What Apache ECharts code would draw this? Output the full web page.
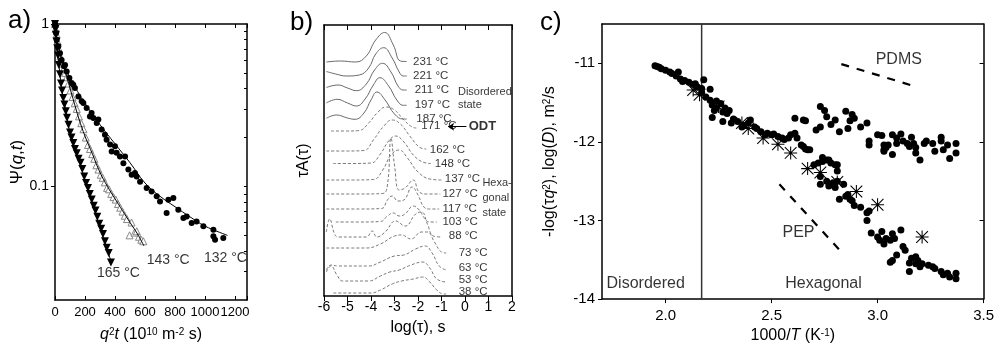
<!DOCTYPE html>
<html><head><meta charset="utf-8">
<script src="https://cdn.jsdelivr.net/npm/echarts@6/dist/echarts.min.js"></script>
<style>html,body{margin:0;padding:0;background:#fff}#c{width:997px;height:349px}</style>
</head><body><div id="c"></div>
<script>
// ---------------- Panel a data ----------------
const aXTicks = [0,200,400,600,800,1000,1200];
const aYTicks = [0.1,1];
const aYMinorTicks = [0.03,0.04,0.05,0.06,0.07,0.08,0.09,0.1,0.2,0.3,0.4,0.5,0.6,0.7,0.8,0.9];
const a132 = [[0,1.0],[3,0.97],[7,0.88],[11,0.80],[22,0.73],[33,0.66],[44,0.60],[60,0.55],[67,0.56],[78,0.51],[96,0.465],[111,0.433],[122,0.423],[133,0.404],[156,0.358],[178,0.334],[189,0.326],[211,0.304],[233,0.27],[244,0.283],[256,0.264],[278,0.246],[289,0.258],[311,0.224],[333,0.208],[344,0.194],[367,0.181],[378,0.164],[400,0.177],[411,0.161],[433,0.153],[456,0.139],[467,0.153],[489,0.127],[511,0.118],[533,0.121],[544,0.115],[567,0.107],[611,0.0977],[644,0.0932],[678,0.0869],[700,0.0809],[744,0.0686],[756,0.0829],[789,0.0848],[822,0.0719],[856,0.0639],[878,0.0654],[911,0.0595],[944,0.0609],[989,0.0568],[1056,0.0541],[1056,0.0493],[1067,0.047],[1122,0.0481]];
const a143 = [[0,1.0],[5,0.93],[10,0.86],[18,0.78],[27,0.70],[36,0.63],[46,0.57],[57,0.53],[68,0.50],[78,0.47],[90,0.43],[103,0.39],[117,0.355],[131,0.325],[145,0.30],[160,0.27],[175,0.245],[190,0.225],[205,0.20],[220,0.18],[233,0.17],[248,0.158],[262,0.148],[276,0.135],[290,0.127],[305,0.118],[318,0.113],[332,0.106],[347,0.098],[360,0.096],[375,0.09],[390,0.086],[405,0.083],[420,0.078],[435,0.074],[450,0.07],[465,0.066],[480,0.063],[497,0.050],[510,0.060],[530,0.052],[545,0.053],[560,0.049],[575,0.047],[589,0.046]];
const a165 = [[0,1.0],[3,0.93],[6,0.86],[10,0.78],[15,0.71],[20,0.64],[26,0.56],[33,0.49],[40,0.43],[47,0.39],[55,0.35],[63,0.32],[72,0.29],[80,0.265],[90,0.24],[100,0.215],[110,0.20],[122,0.185],[133,0.17],[145,0.16],[157,0.148],[170,0.14],[182,0.128],[195,0.115],[207,0.105],[220,0.098],[232,0.09],[245,0.083],[258,0.076],[270,0.071],[282,0.065],[295,0.059],[308,0.055],[320,0.051],[333,0.046],[345,0.042],[358,0.039],[373,0.034]];
const a132Fit = [[0,1],[10,0.85],[25,0.72],[50,0.60],[100,0.465],[150,0.385],[200,0.325],[300,0.24],[400,0.183],[500,0.14],[600,0.105],[700,0.087],[800,0.075],[900,0.065],[1000,0.057],[1150,0.050]];
const a143Fit = [[0,1],[20,0.74],[50,0.575],[80,0.468],[120,0.347],[160,0.26],[200,0.204],[250,0.158],[300,0.122],[350,0.1],[400,0.084],[450,0.071],[500,0.06],[550,0.051],[593,0.043]];
const a165Fit = [[0,1],[20,0.64],[45,0.40],[70,0.30],[100,0.214],[150,0.153],[200,0.110],[250,0.0785],[300,0.056],[373,0.0347]];
const aLabels = [[280,0.0294,'165 °C'],[611,0.0354,'143 °C'],[993,0.0362,'132 °C']];

// ---------------- Panel b data ----------------
const bXTicks = [-6,-5,-4,-3,-2,-1,0,1,2];
const bTemps = ['231','221','211','197','187','171','162','148','137','127','117','103','88','73','63','53','38'];
const b231 = [[-5.9,234],[-5.3,235],[-4.65,234],[-4.2,240],[-3.8,256],[-3.42,263.5],[-3.05,251],[-2.75,235],[-2.48,234.5]];
const b221 = [[-5.9,224.5],[-5.5,222],[-5.05,220],[-4.5,221],[-4.1,228],[-3.8,242],[-3.46,248.3],[-3.1,238],[-2.8,224],[-2.63,220],[-2.48,220]];
const b211 = [[-5.9,208.5],[-5.4,211],[-5.0,208],[-4.62,205.3],[-4.2,212],[-3.85,226],[-3.51,232.7],[-3.15,224],[-2.85,210],[-2.63,206],[-2.48,206]];
const b197 = [[-5.9,193],[-5.44,196.7],[-5.0,193],[-4.62,190],[-4.25,197],[-3.9,211],[-3.62,218.3],[-3.25,210],[-2.9,196],[-2.63,190.7],[-2.48,190.7]];
const b187 = [[-5.9,177.7],[-5.47,181],[-5.0,178],[-4.68,176.7],[-4.3,183],[-4.0,196],[-3.75,204],[-3.4,196],[-3.0,182],[-2.63,177],[-2.48,177]];
const b171 = [[-5.7,165],[-5.0,165],[-4.5,165.5],[-4.1,173],[-3.7,184],[-3.35,189],[-3.0,186],[-2.6,176],[-2.25,169],[-2.07,168]];
const b162 = [[-5.9,145],[-5.0,145],[-4.3,145.5],[-3.9,156],[-3.45,170],[-3.1,176],[-2.75,172],[-2.35,160],[-1.95,149],[-1.65,147]];
const b148 = [[-5.62,132.5],[-4.8,132.5],[-4.0,133],[-3.6,142],[-3.25,155],[-2.95,160],[-2.6,154],[-2.2,141],[-1.8,134],[-1.45,132.5]];
const b137 = [[-5.9,116],[-4.8,116],[-3.9,116.5],[-3.5,126],[-3.15,141],[-2.8,146],[-2.45,138],[-2.0,124],[-1.5,117],[-1.0,116]];
const b127 = [[-5.9,102],[-4.5,102],[-3.5,102.5],[-3.3,111],[-3.15,158],[-3.0,131],[-2.8,106],[-2.55,108],[-2.2,116],[-1.95,104],[-1.6,102],[-1.05,102]];
const b117 = [[-5.9,87],[-4.5,87],[-3.55,87.5],[-3.3,96],[-3.1,100],[-2.85,95],[-2.6,96],[-2.25,109],[-2.0,101],[-1.75,89],[-1.5,87],[-1.1,87]];
const b103 = [[-5.5,74],[-4.5,74],[-3.6,74.5],[-3.3,80],[-3.05,83],[-2.8,80],[-2.55,82],[-2.2,90],[-1.95,86],[-1.7,77],[-1.5,74],[-1.2,74]];
const b88 = [[-5.9,64],[-5.76,77],[-5.55,62],[-5.4,59],[-4.2,59],[-3.95,65],[-3.75,59],[-3.4,64],[-2.95,75],[-2.55,70],[-2.1,82],[-1.85,84],[-1.6,72],[-1.35,60],[-1.0,59]];
const b73 = [[-5.9,48],[-4.2,48],[-3.6,52],[-3.0,60],[-2.7,61],[-2.3,57],[-1.85,64],[-1.6,64],[-1.3,54],[-1.0,44],[-0.8,43]];
const b63 = [[-5.9,26],[-5.7,31],[-5.4,30],[-4.1,30],[-3.6,34],[-3.0,40],[-2.6,41],[-2.1,47],[-1.7,50],[-1.4,43],[-1.1,30],[-0.8,26]];
const b53 = [[-5.9,24],[-5.7,30],[-5.45,21],[-5.2,15],[-4.1,15],[-3.6,20],[-3.2,24],[-2.8,26],[-2.3,31],[-1.8,34],[-1.5,28],[-1.2,17],[-0.8,14]];
const b38 = [[-5.6,3],[-4.0,3],[-3.6,6],[-3.1,12],[-2.7,15],[-2.2,17],[-1.8,19],[-1.5,14],[-1.2,6],[-0.9,2],[-0.8,2]];
const bCurves = [b231,b221,b211,b197,b187,b171,b162,b148,b137,b127,b117,b103,b88,b73,b63,b53,b38];
const bLabelAnchors = [[-2.21,233.7],[-2.21,220],[-2.14,206],[-2.14,190.7],[-2.07,177],[-1.86,170],[-1.50,146],[-1.29,131.7],[-0.86,117],[-0.96,102],[-0.96,87],[-0.96,74.3],[-0.69,60.3],[-0.27,42.7],[-0.27,28.3],[-0.27,16],[-0.27,4.3]];
const bNotes = [[-0.30,204.3,'Disordered'],[-0.30,191,'state'],[0.74,112.7,'Hexa-'],[0.74,97.7,'gonal'],[0.74,83.3,'state']];
const bOdt = [0.16,170,'ODT'];
const bOdtArrow = [[0.06,169.3],[-0.72,169.3]];

// ---------------- Panel c data ----------------
const cXTicks = [2.0,2.5,3.0,3.5];
const cYTicks = [-14,-13,-12,-11];
const cCircles = [
[1.95,-11.03],[1.96,-11.04],[1.97,-11.05],[1.98,-11.07],[2.00,-11.09],[2.02,-11.11],[2.03,-11.13],[2.06,-11.11],[2.05,-11.16],[2.07,-11.20],[2.08,-11.23],[2.09,-11.22],[2.11,-11.24],[2.13,-11.27],[2.14,-11.26],[2.15,-11.30],[2.17,-11.32],[2.18,-11.21],[2.17,-11.37],[2.21,-11.33],[2.19,-11.43],[2.21,-11.47],[2.22,-11.53],[2.24,-11.48],[2.23,-11.60],[2.24,-11.57],[2.26,-11.51],[2.27,-11.62],[2.28,-11.57],[2.29,-11.64],[2.30,-11.60],[2.22,-11.69],[2.27,-11.74],[2.31,-11.76],[2.32,-11.71],[2.34,-11.74],[2.36,-11.81],[2.37,-11.79],[2.40,-11.72],[2.39,-11.76],[2.42,-11.81],[2.43,-11.83],[2.45,-11.87],[2.47,-11.91],[2.48,-11.89],[2.50,-11.91],[2.51,-11.90],[2.53,-11.93],[2.55,-11.95],[2.56,-11.97],[2.58,-11.95],[2.59,-11.91],[2.61,-11.89],[2.62,-11.95],[2.64,-12.04],[2.66,-12.09],[2.68,-12.10],
[2.61,-11.70],[2.65,-11.72],[2.66,-11.73],[2.73,-11.55],[2.75,-11.60],[2.76,-11.68],[2.73,-11.81],[2.71,-11.85],[2.80,-11.72],[2.78,-11.78],[2.82,-11.87],[2.85,-11.61],[2.86,-11.83],[2.88,-11.65],[2.89,-11.70],[2.92,-11.81],[2.95,-11.76],[2.87,-11.73],
[2.96,-12.04],[2.96,-11.99],[3.00,-11.91],[3.02,-11.92],[3.03,-12.04],[3.03,-12.10],[3.04,-12.07],[3.05,-12.04],[3.07,-11.91],[3.07,-12.16],[3.09,-11.95],[3.09,-12.02],[3.11,-11.90],[3.12,-11.99],[3.14,-12.02],[3.15,-12.06],[3.16,-11.94],[3.17,-12.02],[3.18,-12.14],[3.20,-12.23],[3.22,-12.02],[3.23,-11.99],[3.26,-12.02],[3.27,-12.12],[3.30,-11.94],[3.30,-11.99],[3.31,-12.10],[3.33,-12.04],[3.34,-12.21],[3.37,-12.02],[3.37,-12.14],[3.03,-12.12],[3.18,-12.07],
[2.65,-12.06],[2.67,-12.10],[2.70,-12.29],[2.72,-12.27],[2.74,-12.25],[2.74,-12.20],[2.76,-12.23],[2.77,-12.23],[2.78,-12.27],[2.80,-12.29],[2.81,-12.29],[2.81,-12.37],[2.73,-12.44],[2.73,-12.54],[2.76,-12.50],[2.77,-12.56],[2.79,-12.52],[2.80,-12.58],[2.81,-12.50],[2.84,-12.54],[2.82,-12.73],[2.85,-12.69],[2.86,-12.67],[2.87,-12.73],[2.88,-12.75],[2.89,-12.81],[2.92,-12.83],[2.95,-12.90],[2.96,-12.88],[2.95,-13.00],[2.97,-13.16],[3.00,-13.21],[3.02,-13.14],[3.01,-13.25],[3.03,-13.30],[3.04,-13.23],[3.06,-13.25],[3.07,-13.17],[3.08,-13.23],[3.11,-13.12],[3.12,-13.33],[3.13,-13.38],[3.09,-13.44],[3.06,-13.53],[3.07,-13.51],[3.15,-13.65],[3.15,-13.54],[3.16,-13.48],[3.18,-13.46],[3.19,-13.51],[3.21,-13.55],[3.24,-13.57],[3.26,-13.59],[3.27,-13.61],[3.30,-13.65],[3.31,-13.69],[3.33,-13.67],[3.34,-13.72],[3.37,-13.67],[3.37,-13.74],[3.20,-13.59],[3.18,-13.55]];
const cStars = [[2.13,-11.34],[2.16,-11.40],[2.25,-11.55],[2.36,-11.76],[2.39,-11.83],[2.46,-11.95],[2.53,-12.03],[2.59,-12.14],[2.67,-12.34],[2.73,-12.39],[2.81,-12.51],[2.90,-12.63],[3.00,-12.80],[3.21,-13.21]];
const cPDMS = [[2.829,-11.01],[3.177,-11.294]];
const cPEP = [[2.537,-12.54],[2.829,-13.40]];
const cODT = [[2.17,-14],[2.17,-10.5]];
const cNotes = [[1.906,-13.80,'Disordered'],[2.745,-13.80,'Hexagonal'],[3.10,-10.95,'PDMS'],[2.627,-13.15,'PEP']];

// ---------------- chart ----------------
const FONT = 'Liberation Sans, Arial, Helvetica, sans-serif';
const BLACK = '#000';
const STAR = 'path://M9.2,0L10.8,0L10.8,20L9.2,20Z M0,9.2L20,9.2L20,10.8L0,10.8Z M1.57,0.43L19.57,18.43L18.43,19.57L0.43,1.57Z M18.43,0.43L19.57,1.57L1.57,19.57L0.43,18.43Z';
const sup = {fontSize: 10, verticalAlign: 'top', fontFamily: FONT, color: BLACK};
const ital = {fontStyle: 'italic', fontFamily: FONT, color: BLACK};
const lineAx = {show: true, onZero: false, lineStyle: {color: BLACK, width: 1.5}};
const plain = v => String(v);

function noteSeries(xi, yi, arr, size, extra) {
  return Object.assign({
    type: 'scatter', xAxisIndex: xi, yAxisIndex: yi, silent: true, symbolSize: 0, z: 10,
    data: arr.map(d => ({value: [d[0], d[1]], name: d[2]})),
    label: {show: true, position: 'inside', align: 'left', verticalAlign: 'middle', formatter: '{b}',
      color: BLACK, fontSize: size, fontFamily: FONT}
  }, extra || {});
}

const series = [];
// panel a
series.push({type: 'scatter', xAxisIndex: 0, yAxisIndex: 0, data: a143, symbol: 'triangle', symbolSize: 7,
  itemStyle: {color: '#fff', borderColor: '#888', borderWidth: 1, opacity: 1}, z: 3});
series.push({type: 'scatter', xAxisIndex: 0, yAxisIndex: 0, data: a132, symbol: 'circle', symbolSize: 6,
  itemStyle: {color: BLACK, opacity: 1}, z: 3});
series.push({type: 'scatter', xAxisIndex: 0, yAxisIndex: 0, data: a165, symbol: 'triangle', symbolRotate: 180, symbolSize: 8,
  itemStyle: {color: BLACK, opacity: 1}, z: 3});
[a132Fit, a143Fit, a165Fit].forEach(f => series.push({type: 'line', xAxisIndex: 0, yAxisIndex: 0, data: f, smooth: 0.4,
  showSymbol: false, symbol: 'none', lineStyle: {color: BLACK, width: 1}, z: 4}));
series.push(noteSeries(0, 0, aLabels, 14));

// panel b
bCurves.forEach((c, i) => {
  const solid = i < 5;
  series.push({type: 'line', xAxisIndex: 2, yAxisIndex: 2, data: c, smooth: 0.45, symbol: 'none',
    lineStyle: {color: solid ? '#6a6a6a' : '#7a7a7a', width: 1, type: solid ? 'solid' : [3, 2]}});
});
series.push(noteSeries(2, 2, bLabelAnchors.map((p, i) => [p[0], p[1], bTemps[i] + ' °C']), 11.5));
series.push(noteSeries(2, 2, bNotes, 11));
series.push(noteSeries(2, 2, [bOdt], 13, {
  label: {show: true, position: 'inside', align: 'left', verticalAlign: 'middle', formatter: '{b}', color: BLACK,
    fontSize: 13, fontWeight: 'bold', fontFamily: FONT},
  markLine: {silent: true, symbol: ['none', 'arrow'], symbolSize: 6, label: {show: false},
    lineStyle: {color: BLACK, width: 1, type: 'solid'},
    data: [[{coord: bOdtArrow[0]}, {coord: bOdtArrow[1]}]]}
}));

// panel c
series.push({type: 'line', xAxisIndex: 4, yAxisIndex: 4, data: cODT, symbol: 'none',
  lineStyle: {color: '#333', width: 1.5}, z: 1});
series.push({type: 'line', xAxisIndex: 4, yAxisIndex: 4, data: cPDMS, symbol: 'none',
  lineStyle: {color: BLACK, width: 2.2, type: [8, 8]}});
series.push({type: 'line', xAxisIndex: 4, yAxisIndex: 4, data: cPEP, symbol: 'none',
  lineStyle: {color: BLACK, width: 2.2, type: [8, 8]}});
series.push({type: 'scatter', xAxisIndex: 4, yAxisIndex: 4, data: cCircles, symbol: 'circle', symbolSize: 7,
  itemStyle: {color: BLACK, opacity: 1}, z: 3});
series.push({type: 'scatter', xAxisIndex: 4, yAxisIndex: 4, data: cStars, symbol: STAR, symbolSize: 13,
  itemStyle: {color: BLACK, opacity: 1}, z: 4});
series.push(noteSeries(4, 4, cNotes, 16, {
  label: {show: true, position: 'inside', align: 'center', verticalAlign: 'middle', formatter: '{b}', color: BLACK,
    fontSize: 16, fontFamily: FONT}
}));

const option = {
  animation: false,
  backgroundColor: '#fff',
  textStyle: {fontFamily: FONT, color: BLACK},
  title: [
    {text: 'a)', left: 3, top: 3, textStyle: {fontSize: 26, fontWeight: 'normal', fontFamily: FONT, color: BLACK}},
    {text: 'b)', left: 285, top: 5, textStyle: {fontSize: 26, fontWeight: 'normal', fontFamily: FONT, color: BLACK}},
    {text: 'c)', left: 535, top: 5, textStyle: {fontSize: 26, fontWeight: 'normal', fontFamily: FONT, color: BLACK}}
  ],
  grid: [
    {left: 55, top: 24, width: 192, height: 276},
    {left: 324, top: 25, width: 188, height: 271},
    {left: 602, top: 24, width: 383, height: 279}
  ],
  xAxis: [
    {gridIndex: 0, type: 'value', min: 0, max: 1280, interval: 200, position: 'bottom', axisLine: lineAx,
      axisTick: {inside: true, length: 4, lineStyle: {color: BLACK}}, splitLine: {show: false},
      axisLabel: {fontSize: 13, color: BLACK, margin: 6, fontFamily: FONT, customValues: aXTicks, formatter: plain},
      name: '{i|q}{s|2}{i|t} (10{s|10} m{s|-2} s)', nameLocation: 'middle', nameGap: 27,
      nameTextStyle: {fontSize: 16, color: BLACK, fontFamily: FONT, rich: {i: Object.assign({fontSize: 16}, ital), s: sup}}},
    {gridIndex: 0, type: 'value', min: 0, max: 1280, interval: 200, position: 'top', axisLine: lineAx,
      axisTick: {inside: true, length: 4, lineStyle: {color: BLACK}}, axisLabel: {show: false}, splitLine: {show: false}},
    {gridIndex: 1, type: 'value', min: -6, max: 2, interval: 1, position: 'bottom', axisLine: lineAx,
      axisTick: {inside: false, length: 5, lineStyle: {color: BLACK}}, splitLine: {show: false},
      axisLabel: {fontSize: 14, color: BLACK, margin: 4, fontFamily: FONT, customValues: bXTicks, formatter: plain},
      name: 'log(τ), s', nameLocation: 'middle', nameGap: 24,
      nameTextStyle: {fontSize: 16, color: BLACK, fontFamily: FONT}},
    {gridIndex: 1, type: 'value', min: -6, max: 2, interval: 1, position: 'top', axisLine: lineAx,
      axisTick: {inside: true, length: 5, lineStyle: {color: BLACK}}, axisLabel: {show: false}, splitLine: {show: false}},
    {gridIndex: 2, type: 'value', min: 1.7, max: 3.5, position: 'bottom', axisLine: lineAx,
      axisTick: {inside: false, length: 4, lineStyle: {color: BLACK}, customValues: cXTicks}, splitLine: {show: false},
      axisLabel: {fontSize: 15, color: BLACK, margin: 9, fontFamily: FONT, customValues: cXTicks, formatter: v => v.toFixed(1)},
      name: '1000/{i|T} (K{s|-1})', nameLocation: 'middle', nameGap: 26,
      nameTextStyle: {fontSize: 16, color: BLACK, fontFamily: FONT, rich: {i: Object.assign({fontSize: 16}, ital), s: sup}}},
    {gridIndex: 2, type: 'value', min: 1.7, max: 3.5, position: 'top', axisLine: lineAx,
      axisTick: {show: false}, axisLabel: {show: false}, splitLine: {show: false}}
  ],
  yAxis: [
    {gridIndex: 0, type: 'log', logBase: 10, min: 0.02, max: 1, position: 'left', axisLine: lineAx,
      axisTick: {inside: false, length: 4, lineStyle: {color: BLACK}, customValues: aYTicks}, splitLine: {show: false}, minorSplitLine: {show: false},
      axisLabel: {fontSize: 14, color: BLACK, margin: 6, fontFamily: FONT, customValues: aYTicks, formatter: v => (v > 0.5 ? '1' : '0.1')},
      name: 'Ψ({i|q},{i|t})', nameLocation: 'middle', nameRotate: 90, nameGap: 23,
      nameTextStyle: {fontSize: 17, color: BLACK, fontFamily: FONT, rich: {i: Object.assign({fontSize: 17}, ital)}}},
    {gridIndex: 0, type: 'log', logBase: 10, min: 0.02, max: 1, position: 'right', axisLine: lineAx,
      axisTick: {inside: true, length: 3, lineStyle: {color: BLACK}, customValues: aYMinorTicks}, axisLabel: {show: false}, splitLine: {show: false}},
    {gridIndex: 1, type: 'value', min: 0, max: 271, position: 'left', axisLine: lineAx,
      axisTick: {show: false}, axisLabel: {show: false}, splitLine: {show: false},
      name: 'τA(τ)', nameLocation: 'middle', nameRotate: 90, nameGap: 12,
      nameTextStyle: {fontSize: 16, color: BLACK, fontFamily: FONT}},
    {gridIndex: 1, type: 'value', min: 0, max: 271, position: 'right', axisLine: lineAx,
      axisTick: {show: false}, axisLabel: {show: false}, splitLine: {show: false}},
    {gridIndex: 2, type: 'value', min: -14, max: -10.5, position: 'left', axisLine: lineAx,
      axisTick: {inside: false, length: 4, lineStyle: {color: BLACK}, customValues: cYTicks}, splitLine: {show: false},
      axisLabel: {fontSize: 15, color: BLACK, margin: 7, fontFamily: FONT, customValues: cYTicks, formatter: plain},
      name: '-log(τ{i|q}{s|2}), log({i|D}), m{s|2}/s', nameLocation: 'middle', nameRotate: 90, nameGap: 44,
      nameTextStyle: {fontSize: 16, color: BLACK, fontFamily: FONT, rich: {i: Object.assign({fontSize: 16}, ital), s: sup}}},
    {gridIndex: 2, type: 'value', min: -14, max: -10.5, position: 'right', axisLine: lineAx,
      axisTick: {inside: true, length: 4, lineStyle: {color: BLACK}, customValues: [-13,-12,-11]}, axisLabel: {show: false}, splitLine: {show: false}}
  ],
  series: series
};
const chart = echarts.init(document.getElementById('c'), null, {renderer: 'canvas'});
chart.setOption(option);
</script></body></html>
